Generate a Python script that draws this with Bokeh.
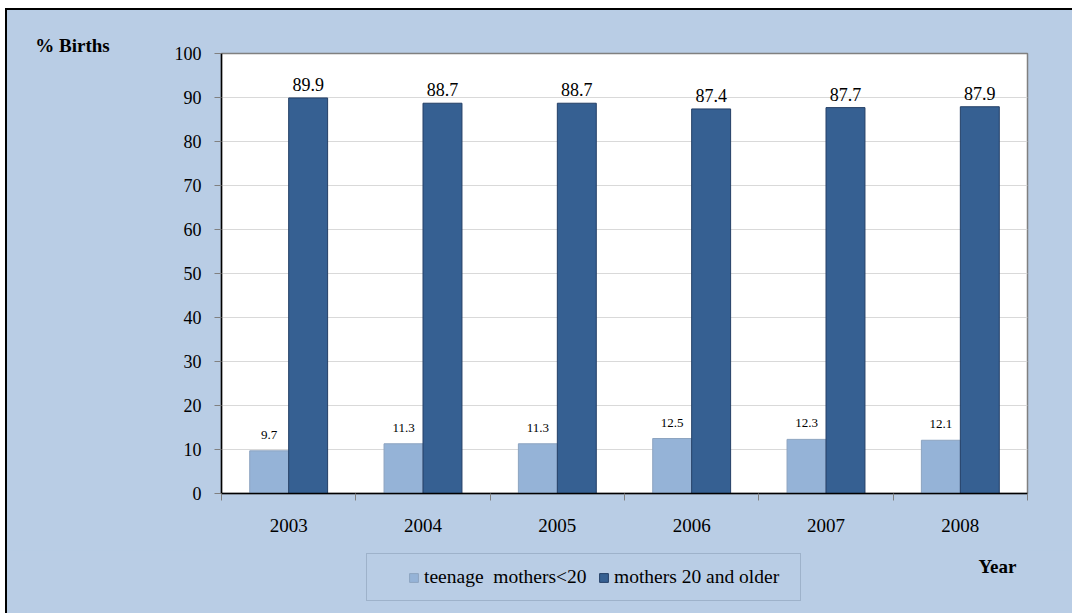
from bokeh.plotting import figure
from bokeh.models import (ColumnDataSource, FixedTicker, Legend, LegendItem, Label, Range1d)
from bokeh.layouts import column
from bokeh.transform import dodge
from bokeh.embed import file_html
from bokeh.resources import INLINE

years = ["2003", "2004", "2005", "2006", "2007", "2008"]
teen = [9.7, 11.3, 11.3, 12.5, 12.3, 12.1]
older = [89.9, 88.7, 88.7, 87.4, 87.7, 87.9]
series_names = ["teenage  mothers<20", "mothers 20 and older"]
y_ticks = list(range(0, 101, 10))

BG = "#B9CDE5"
LIGHT = "#95B3D7"
DARK = "#366092"
LIGHT_EDGE = "#8DA4C0"
DARK_EDGE = "#243F66"
FONT = "Liberation Serif"

W = 1065
H_TOP = 540
H_BOT = 63
FW = 806
BL, BR = 214, 45

centers = [i + 0.5 for i in range(len(years))]
bounds = list(range(len(years) + 1))
src = ColumnDataSource(dict(x=centers, teen=teen, older=older,
                            teen_lbl=[f"{v:.1f}" for v in teen],
                            older_lbl=[f"{v:.1f}" for v in older]))

p = figure(width=W, height=H_TOP, output_backend="svg", toolbar_location=None,
           x_range=Range1d(0, len(years)), y_range=Range1d(0, 100),
           min_border_left=BL, min_border_right=BR, min_border_top=43, min_border_bottom=57,
           frame_width=FW, frame_height=440)
p.background_fill_color = "white"
p.border_fill_color = BG
p.outline_line_color = "#808080"
p.outline_line_width = 1.5

bw = 0.29
p.vbar(x=dodge("x", -bw / 2, range=p.x_range), top="teen", width=bw, source=src,
       fill_color=LIGHT, line_color=LIGHT_EDGE, line_width=1)
p.vbar(x=dodge("x", bw / 2, range=p.x_range), top="older", width=bw, source=src,
       fill_color=DARK, line_color=DARK_EDGE, line_width=1)

p.text(x=dodge("x", -bw / 2, range=p.x_range), y="teen", text="teen_lbl", source=src,
       text_font=FONT, text_font_size="13px", text_align="center", text_baseline="bottom",
       y_offset=-12, text_color="black")
p.text(x=dodge("x", bw / 2, range=p.x_range), y="older", text="older_lbl", source=src,
       text_font=FONT, text_font_size="18px", text_align="center", text_baseline="bottom",
       y_offset=-7, text_color="black")

# axes
yax = p.yaxis[0]
yax.ticker = FixedTicker(ticks=y_ticks)
yax.axis_line_color = "black"
yax.axis_line_width = 1.5
yax.major_tick_line_color = "#808080"
yax.major_tick_out = 7
yax.major_tick_in = 0
yax.minor_tick_line_color = None
yax.major_label_text_font = FONT
yax.major_label_text_font_size = "18px"
yax.major_label_text_color = "black"
yax.major_label_standoff = 13

xax = p.xaxis[0]
xax.ticker = FixedTicker(ticks=centers, minor_ticks=bounds)
xax.major_label_overrides = {c: y for c, y in zip(centers, years)}
xax.axis_line_color = "black"
xax.axis_line_width = 1.5
xax.major_tick_line_color = None
xax.major_tick_out = 0
xax.minor_tick_line_color = "#808080"
xax.minor_tick_out = 7
xax.minor_tick_in = 0
xax.major_label_text_font = FONT
xax.major_label_text_font_size = "19px"
xax.major_label_text_color = "black"
xax.major_label_standoff = 18

p.xgrid.grid_line_color = None
p.ygrid.ticker = FixedTicker(ticks=y_ticks)
p.ygrid.grid_line_color = "#D9D9D9"
p.ygrid.grid_line_width = 1

p.add_layout(Label(x=-1.109, y=101.8, text="% Births", text_font=FONT, text_font_size="19px",
                   text_font_style="bold", text_align="center", text_baseline="middle",
                   text_color="black"), "above")

# bottom strip: legend and x-axis title (pixel coordinates relative to its frame)
b = figure(width=W, height=H_BOT, output_backend="svg", toolbar_location=None,
           x_range=Range1d(0, FW), y_range=Range1d(0, H_BOT),
           x_axis_location=None, y_axis_location=None,
           min_border_left=BL, min_border_right=BR, min_border_top=0, min_border_bottom=0,
           frame_width=FW, frame_height=H_BOT)
b.background_fill_color = BG
b.border_fill_color = BG
b.outline_line_color = None
b.grid.visible = False

nan = float("nan")
d1 = b.vbar(x=[nan], top=[nan], width=1, fill_color=LIGHT, line_color=LIGHT_EDGE)
d2 = b.vbar(x=[nan], top=[nan], width=1, fill_color=DARK, line_color=DARK_EDGE)

legend = Legend(items=[LegendItem(label=series_names[0], renderers=[d1]),
                       LegendItem(label=series_names[1], renderers=[d2])],
                orientation="horizontal", location=(145, 12),
                title=" ", title_location="left", title_standoff=23,
                title_text_font_size="6px",
                background_fill_color=BG, background_fill_alpha=1.0,
                border_line_color="#8497B0", border_line_width=1.5,
                label_text_font=FONT, label_text_font_size="19.5px", label_text_color="black",
                glyph_width=11, glyph_height=11, label_standoff=5, label_width=174,
                spacing=0, padding=12, margin=0, label_height=18)
b.add_layout(legend, "center")

b.add_layout(Label(x=776, y=47, text="Year", text_font=FONT, text_font_size="19px",
                   text_font_style="bold", text_align="center", text_baseline="middle",
                   text_color="black"))

layout = column(p, b, spacing=0,
                styles={"margin-left": "5px", "margin-top": "8px",
                        "border-top": "2px solid black", "border-left": "2px solid black",
                        "background-color": BG})

open("out.html", "w").write(file_html(layout, INLINE))
